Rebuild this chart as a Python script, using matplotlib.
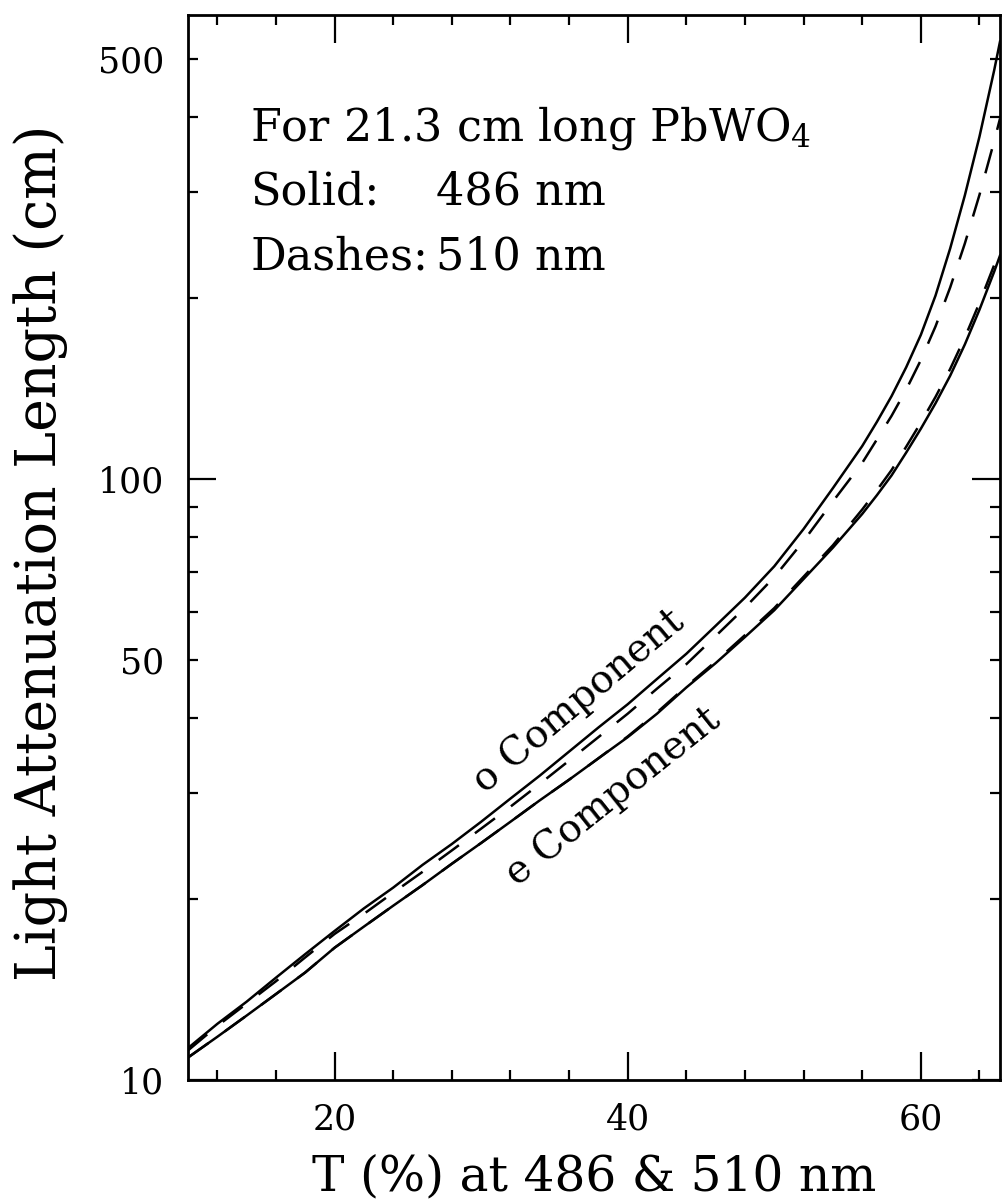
import matplotlib
matplotlib.use("Agg")
import matplotlib.pyplot as plt
from matplotlib.ticker import FixedLocator, FuncFormatter

plt.rcParams["font.family"] = "DejaVu Serif"
plt.rcParams["mathtext.fontset"] = "dejavuserif"

t_pct = [10, 12, 14, 16, 18, 20, 22, 24, 26, 28, 30, 32, 34, 36, 38, 40, 42, 44,
         46, 48, 50, 52, 54, 56, 57, 58, 59, 60, 61, 62, 63, 64, 65, 65.4]

# attenuation length (cm)
len_o486 = [11.3, 12.4, 13.5, 14.8, 16.2, 17.7, 19.3, 20.9, 22.8, 24.7, 26.9, 29.4,
            32.1, 35.2, 38.6, 42.2, 46.5, 51.2, 57.0, 63.5, 71.6, 82.6, 96.6, 113.5,
            124.5, 137.4, 153.5, 173.8, 202, 242, 296.5, 371.5, 478.6, 534.6]
len_o510 = [11.2, 12.3, 13.4, 14.6, 16.0, 17.5, 18.9, 20.5, 22.2, 24.1, 26.2, 28.5,
            31.1, 34.0, 37.2, 40.7, 44.8, 49.2, 54.8, 61.1, 68.7, 78.9, 91.8, 106.4,
            116.4, 127.4, 140.9, 157.8, 179.5, 208.4, 246.6, 297.2, 364.8, 398]
len_e486 = [10.9, 11.8, 12.8, 13.9, 15.1, 16.6, 18.0, 19.5, 21.1, 22.9, 24.8, 26.9,
            29.2, 31.6, 34.3, 37.2, 40.7, 45.0, 49.4, 54.6, 60.5, 68.2, 76.9, 87.5,
            94.0, 101.4, 110.7, 121.3, 133.7, 148.6, 167.5, 191.4, 221.3, 235.5]
len_e510 = [10.9, 11.8, 12.8, 13.9, 15.1, 16.6, 18.0, 19.5, 21.1, 22.9, 24.8, 26.9,
            29.2, 31.6, 34.3, 37.3, 40.9, 45.2, 49.7, 55.0, 61.0, 68.8, 77.6, 89.0,
            95.8, 103.5, 113.2, 124.2, 137.0, 152.5, 172.0, 196.5, 227.0, 241.0]

x_major = [20, 40, 60]
x_minor = [12, 16, 24, 28, 32, 36, 44, 48, 52, 56, 64]
y_major = [10, 100]
y_minor = [20, 30, 40, 50, 60, 70, 80, 90, 200, 300, 400, 500]
y_minor_labels = [50, 500]

fig = plt.figure(figsize=(10.02, 12), dpi=100)
ax = fig.add_axes([188 / 1002, 120 / 1200, 812 / 1002, 1065 / 1200])

dash = (0, (10, 8))
ax.plot(t_pct, len_o486, color="black", lw=1.8)
ax.plot(t_pct, len_e486, color="black", lw=1.8)
ax.plot(t_pct, len_o510, color="black", lw=1.8, linestyle=dash)
ax.plot(t_pct, len_e510, color="black", lw=1.8, linestyle=dash)

ax.set_yscale("log")
ax.set_xlim(10, 65.4)
ax.set_ylim(10, 592)

ax.xaxis.set_major_locator(FixedLocator(x_major))
ax.xaxis.set_minor_locator(FixedLocator(x_minor))
ax.yaxis.set_major_locator(FixedLocator(y_major))
ax.yaxis.set_minor_locator(FixedLocator(y_minor))
ax.xaxis.set_major_formatter(FuncFormatter(lambda v, p: f"{v:g}"))
ax.yaxis.set_major_formatter(FuncFormatter(lambda v, p: f"{v:g}"))
ax.yaxis.set_minor_formatter(
    FuncFormatter(lambda v, p: f"{v:g}" if v in y_minor_labels else ""))

for s in ax.spines.values():
    s.set_linewidth(2.0)
ax.tick_params(which="both", direction="in", top=True, right=True,
               labelsize=25, width=1.6)
ax.tick_params(which="major", length=20)
ax.tick_params(which="minor", length=7.5)
ax.tick_params(axis="x", which="both", pad=16)
ax.tick_params(axis="y", which="both", pad=17)

ax.set_xlabel("T (%) at 486 & 510 nm", fontsize=35)
ax.xaxis.label.set_va("baseline")
ax.xaxis.set_label_coords(0.5, -0.1033)
ax.set_ylabel("Light Attenuation Length (cm)", fontsize=40)
ax.yaxis.set_label_coords(-0.148, 0.495)

fs = 32
ax.text(0.0764, 0.8826, "For 21.3 cm long PbWO$_4$", transform=ax.transAxes,
        fontsize=fs, va="baseline")
ax.text(0.0764, 0.8216, "Solid:", transform=ax.transAxes, fontsize=fs, va="baseline")
ax.text(0.305, 0.8216, "486 nm", transform=ax.transAxes, fontsize=fs, va="baseline")
ax.text(0.0764, 0.7606, "Dashes:", transform=ax.transAxes, fontsize=fs, va="baseline")
ax.text(0.305, 0.7606, "510 nm", transform=ax.transAxes, fontsize=fs, va="baseline")

ax.text(0.481, 0.356, "o Component", transform=ax.transAxes, fontsize=28,
        rotation=40, rotation_mode="anchor", ha="center", va="center")
ax.text(0.523, 0.266, "e Component", transform=ax.transAxes, fontsize=28,
        rotation=38.5, rotation_mode="anchor", ha="center", va="center")

fig.savefig("out.png", dpi=100)
